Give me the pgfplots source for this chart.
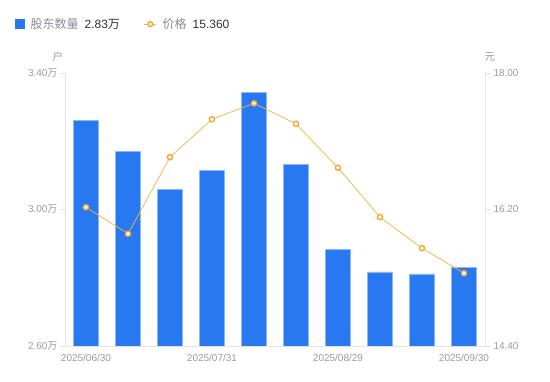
\documentclass[border=0pt]{standalone}
\usepackage{pgfplots}
\pgfplotsset{compat=1.18}
\usepackage{fontspec}
\setmainfont{Liberation Sans}
\newfontfamily\cjk{Noto Sans CJK SC}
\definecolor{barblue}{HTML}{2878F2}
\definecolor{baredge}{HTML}{8DB8F8}
\definecolor{lineorange}{HTML}{F6B03A}
\definecolor{markorange}{HTML}{F5A72C}
\definecolor{ticktxt}{HTML}{9A9AAA}
\definecolor{axisline}{HTML}{E2E2E8}
\definecolor{legtxt}{HTML}{8A8A99}
\definecolor{legnum}{HTML}{333333}
\begin{document}
\begin{tikzpicture}[x=1pt,y=1pt]
\path[use as bounding box] (0,0) rectangle (550,381);
\begin{axis}[
  at={(65pt,35pt)}, anchor=south west,
  scale only axis, width=420pt, height=273pt,
  xmin=-0.5, xmax=9.5, ymin=2.6, ymax=3.4,
  axis x line*=bottom, axis y line*=left,
  axis line style={draw=axisline, line width=0.8pt, -},
  xtick={0,3,6,9},
  xticklabels={2025/06/30,2025/07/31,2025/08/29,2025/09/30},
  x tick style={draw=none},
  ytick={2.6,3.0,3.4},
  yticklabels={2.60{\cjk 万},3.00{\cjk 万},3.40{\cjk 万}},
  y tick style={draw=axisline, line width=0.8pt},
  tick align=outside, major tick length=5pt,
  ticklabel style={font=\fontsize{10}{12}\selectfont, text=ticktxt},
  yticklabel style={xshift=1pt},
  ylabel={\cjk 户},
  ylabel style={rotate=-90, at={(axis description cs:-0.0167,1.0586)}, anchor=center, font=\fontsize{10.5}{12}\selectfont, text=ticktxt},
  bar width=25pt,
]
\addplot[ybar, fill=barblue, draw=baredge, line width=0.6pt] coordinates {
  (0,3.262) (1,3.170) (2,3.058) (3,3.114) (4,3.344)
  (5,3.133) (6,2.884) (7,2.817) (8,2.811) (9,2.830)};
\end{axis}
\begin{axis}[
  at={(65pt,35pt)}, anchor=south west,
  scale only axis, width=420pt, height=273pt,
  xmin=-0.5, xmax=9.5, ymin=14.4, ymax=18,
  axis x line=none, axis y line*=right,
  axis line style={draw=axisline, line width=0.8pt, -},
  ytick={14.4,16.2,18},
  yticklabels={14.40,16.20,18.00},
  y tick style={draw=axisline, line width=0.8pt},
  tick align=outside, major tick length=5pt,
  ticklabel style={font=\fontsize{10}{12}\selectfont, text=ticktxt},
  ylabel={\cjk 元},
  ylabel style={rotate=-90, at={(axis description cs:1.0119,1.0586)}, anchor=center, font=\fontsize{10.5}{12}\selectfont, text=ticktxt},
  legend style={at={(axis description cs:-0.119,1.179)}, anchor=west, draw=none, fill=none, inner sep=0pt,
    font=\fontsize{12}{14}\selectfont, nodes={inner xsep=6pt, inner ysep=2pt},
    /tikz/every even column/.append style={column sep=18pt}},
  legend columns=2, legend cell align=left,
]
\addlegendimage{legend image code/.code={\fill[barblue] (0pt,-4.5pt) rectangle (9pt,4.5pt);}}
\addlegendentry{\textcolor{legtxt}{\cjk 股东数量}\hspace{6pt}\textcolor{legnum}{2.83{\cjk 万}}}
\addplot[color=lineorange, line width=0.7pt, mark=*,
  mark options={draw=markorange, fill=white, line width=1.4pt}, mark size=2.6pt,
  legend image code/.code={\draw[lineorange, line width=0.7pt] (0pt,0pt) -- (12pt,0pt); \draw[markorange, fill=white, line width=1.4pt] (6pt,0pt) circle (2.4pt);}]
  coordinates {
  (0,16.23) (1,15.88) (2,16.89) (3,17.39) (4,17.60)
  (5,17.33) (6,16.75) (7,16.10) (8,15.69) (9,15.36)};
\addlegendentry{\textcolor{legtxt}{\cjk 价格}\hspace{6pt}\textcolor{legnum}{15.360}}
\end{axis}
\end{tikzpicture}
\end{document}
